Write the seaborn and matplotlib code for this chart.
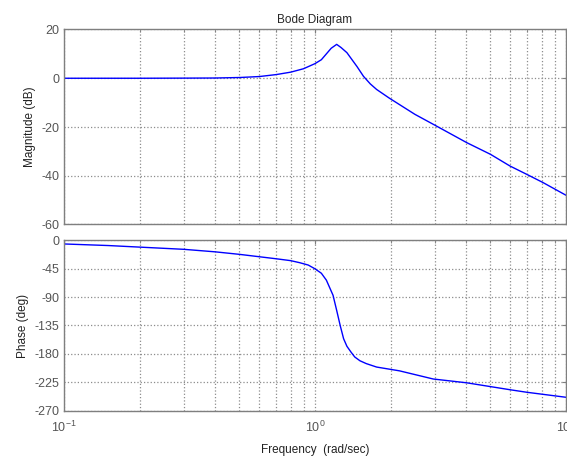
import matplotlib
matplotlib.use("Agg")
import matplotlib.pyplot as plt
import seaborn as sns
import numpy as np

# values
mag_freq = [0.1, 0.2, 0.3, 0.4, 0.5, 0.6, 0.7, 0.8, 0.9, 1.0, 1.06, 1.11, 1.16,
            1.22, 1.27, 1.34, 1.40, 1.47, 1.56, 1.66, 1.76, 1.98, 2.5, 2.96,
            4.02, 5.0, 5.98, 6.97, 8.1, 10.0]
mag_db = [0.0, 0.0, 0.05, 0.1, 0.3, 0.7, 1.5, 2.5, 3.9, 6.0, 7.6, 10.0, 12.3,
          13.9, 12.6, 10.5, 7.8, 4.8, 0.8, -2.3, -4.6, -8.2, -14.8, -18.9,
          -26.4, -31.2, -36.0, -39.4, -42.8, -48.0]

phase_freq = [0.1, 0.15, 0.2, 0.3, 0.4, 0.5, 0.6, 0.7, 0.8, 0.87, 0.94, 1.0,
              1.06, 1.11, 1.18, 1.22, 1.26, 1.30, 1.34, 1.39, 1.44, 1.51, 1.60,
              1.76, 2.17, 2.96, 4.02, 5.98, 6.97, 10.0]
phase_deg = [-5.5, -8, -10.5, -14, -18, -22, -25.8, -29, -32, -35.3, -39, -45,
             -52, -63, -87, -111, -135, -156, -168, -177, -185, -191, -195.5,
             -201, -207, -220, -226, -237, -241, -249]

mag_ticks = [20, 0, -20, -40, -60]
phase_ticks = [0, -45, -90, -135, -180, -225, -270]

sns.set_style("white")
plt.rcParams['font.family'] = ['Liberation Sans', 'DejaVu Sans']
plt.rcParams['mathtext.default'] = 'regular'
plt.rcParams['axes.unicode_minus'] = False

fig = plt.figure(figsize=(5.67, 4.61), dpi=100)
ax1 = fig.add_axes([64/567, 1-224.5/461, 502/567, 195/461])
ax2 = fig.add_axes([64/567, 1-410.5/461, 502/567, 170/461])

frame = '#7f7f7f'
label_col = '#555555'

def style_axes(ax, yticks, ylim):
    ax.set_xscale('log')
    ax.set_xlim(0.1, 10)
    ax.set_ylim(*ylim)
    ax.set_yticks(yticks)
    ax.grid(True, which='major', axis='both', color='#8c8c8c', linestyle=':', linewidth=0.9)
    ax.grid(True, which='minor', axis='x', color='#8c8c8c', linestyle=':', linewidth=0.9)
    for s in ax.spines.values():
        s.set_color(frame)
        s.set_linewidth(1.0)
    ax.tick_params(which='both', direction='in', colors=frame, labelcolor=label_col,
                   labelsize=9, top=True, right=True)
    ax.tick_params(which='major', length=3)
    ax.tick_params(which='minor', length=2)

sns.lineplot(x=mag_freq, y=mag_db, ax=ax1, color='blue', linewidth=1.0)
style_axes(ax1, mag_ticks, (-60, 20))
ax1.set_xticklabels([], minor=True)
ax1.set_xticklabels([])
ax1.set_ylabel('Magnitude (dB)', fontsize=8.5, color='#222222')
ax1.set_title('Bode Diagram', fontsize=8.5, pad=5)

sns.lineplot(x=phase_freq, y=phase_deg, ax=ax2, color='blue', linewidth=1.0)
style_axes(ax2, phase_ticks, (-270, 0))
ax2.set_xticks([0.1, 1, 10])
ax2.set_xticklabels(['$10^{-1}$', '$10^{0}$', '$10^{1}$'])
ax2.tick_params(axis='x', which='major', pad=7)
ax2.set_ylabel('Phase (deg)', fontsize=8.5, color='#222222')
ax2.set_xlabel('Frequency  (rad/sec)', fontsize=8.5, color='#222222', labelpad=6)

fig.savefig('out.png', dpi=100)
